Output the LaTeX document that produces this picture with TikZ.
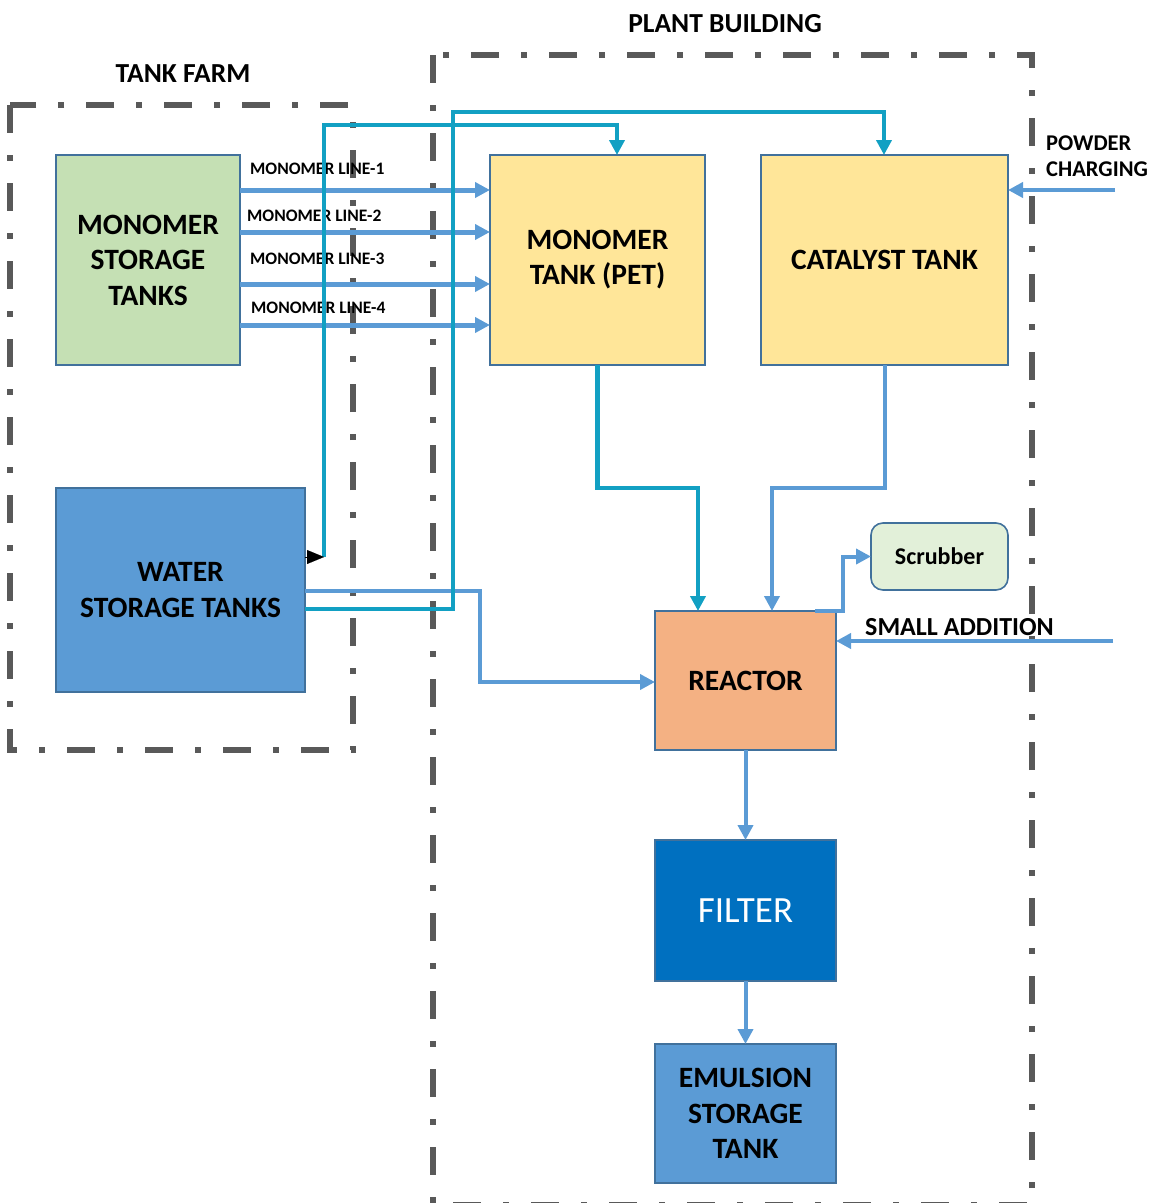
\documentclass[tikz,border=0pt]{standalone}
\usepackage{fontspec}
\setmainfont{Carlito}
\usetikzlibrary{arrows.meta}

\definecolor{edgeblue}{HTML}{41719C}
\definecolor{pipeblue}{HTML}{5B9BD5}
\definecolor{pipeteal}{HTML}{12A0C3}
\definecolor{framegrey}{HTML}{595959}
\definecolor{fillgreen}{HTML}{C5E0B4}
\definecolor{fillyellow}{HTML}{FFE699}
\definecolor{fillorange}{HTML}{F4B183}
\definecolor{fillblue}{HTML}{5B9BD5}
\definecolor{filldeep}{HTML}{0070C0}
\definecolor{fillmint}{HTML}{E2F0D9}

\tikzset{
  unitbox/.style={draw=edgeblue, line width=1.6pt, inner sep=0pt, outer sep=0pt,
    align=center, text=black, font=\bfseries\fontsize{29.5}{35.5}\selectfont},
  areaframe/.style={draw=framegrey, line width=6pt,
    dash pattern=on 28pt off 22pt on 6pt off 22pt},
  arealabel/.style={font=\bfseries\fontsize{27.5}{30}\selectfont, text=black},
  linelabel/.style={anchor=west, inner sep=0pt, font=\bfseries\fontsize{17.5}{20}\selectfont, text=black},
  sidelabel/.style={anchor=west, inner sep=0pt, align=left, text=black},
  tip/.style={-{Triangle[length=15pt,width=15pt]}},
  bluepipe/.style={draw=pipeblue, line width=4pt, tip},
  monoline/.style={draw=pipeblue, line width=5pt, tip},
  tealpipe/.style={draw=pipeteal, line width=4.5pt, tip},
}

\begin{document}
\begin{tikzpicture}[x=1pt, y=-1pt]
\useasboundingbox (0,0) rectangle (1152,1203);

% area frames
\draw[areaframe] (10,105) rectangle (353,750);
\draw[areaframe] (433,55) rectangle (1032,1205);
\node[arealabel] (tfl) at (183,74) {TANK FARM};
\node[arealabel] (pbl) at (725,24) {PLANT BUILDING};

% process units
\node[unitbox, fill=fillgreen, minimum width=184pt, minimum height=210pt] (mst) at (148,260)
  {MONOMER\\STORAGE\\TANKS};
\node[unitbox, fill=fillblue, minimum width=249pt, minimum height=204pt] (wst) at (180.5,590)
  {WATER\\STORAGE TANKS};
\node[unitbox, fill=fillyellow, minimum width=215pt, minimum height=210pt] (mtk) at (597.5,260)
  {\raisebox{-3pt}{\begin{tabular}{@{}c@{}}MONOMER\\TANK (PET)\end{tabular}}};
\node[unitbox, fill=fillyellow, minimum width=247pt, minimum height=210pt] (ctk) at (884.5,260)
  {CATALYST TANK};
\node[unitbox, fill=fillmint, rounded corners=12pt, minimum width=137pt, minimum height=67pt,
  font=\bfseries\fontsize{24}{28}\selectfont] (scr) at (939.5,556.5) {Scrubber};
\node[unitbox, fill=fillorange, minimum width=181pt, minimum height=139pt] (rea) at (745.5,680.5)
  {REACTOR};
\node[unitbox, fill=filldeep, minimum width=181pt, minimum height=141pt, text=white,
  font=\fontsize{37}{42}\selectfont] (fil) at (745.5,910.5) {FILTER};
\node[unitbox, fill=fillblue, minimum width=181pt, minimum height=139pt] (emu) at (745.5,1113.5)
  {EMULSION\\STORAGE\\TANK};

% line labels
\node[linelabel] (ml1) at (250,169) {MONOMER LINE-1};
\node[linelabel] (ml2) at (247,216) {MONOMER LINE-2};
\node[linelabel] (ml3) at (250,259) {MONOMER LINE-3};
\node[linelabel] (ml4) at (251,308) {MONOMER LINE-4};
\node[sidelabel, font=\bfseries\fontsize{22.5}{26}\selectfont] (pcl) at (1046,156) {POWDER\\CHARGING};
\node[sidelabel, font=\bfseries\fontsize{26}{28}\selectfont] (sal) at (865,627) {SMALL ADDITION};

% reference points for the pipe routes
\coordinate (y1) at (0,190);
\coordinate (y2) at (0,232);
\coordinate (y3) at (0,284);
\coordinate (y4) at (0,325);
\coordinate (yw1) at (0,591);
\coordinate (yw2) at (0,609);
\coordinate (yr) at (0,682);
\coordinate (xm) at (617,0);
\coordinate (xc) at (884,0);
\coordinate (xa) at (698,0);
\coordinate (xb) at (772,0);
\coordinate (xs) at (815,0);
\coordinate (wtap) at (324,557);
\coordinate (pcin) at (1115,190);
\coordinate (sain) at (1113,641);

% monomer transfer lines
\draw[monoline] (mst.east |- y1) -- (mtk.west |- y1);
\draw[monoline] (mst.east |- y2) -- (mtk.west |- y2);
\draw[monoline] (mst.east |- y3) -- (mtk.west |- y3);
\draw[monoline] (mst.east |- y4) -- (mtk.west |- y4);

% blue pipes
\draw[bluepipe] (wst.east |- yw1) -| (480,682) -- (rea.west |- yr);
\draw[bluepipe] (ctk.south) |- (772,488) -- (rea.north -| xb);
\draw[bluepipe] (rea.north -| xs) -| (843,556.5) -- (scr.west);
\draw[bluepipe] (sain) -- (rea.east |- sain);
\draw[bluepipe] (pcin) -- (ctk.east |- pcin);
\draw[bluepipe] (rea.south) -- (fil.north);
\draw[bluepipe] (fil.south) -- (emu.north);

% teal pipes
\draw[tealpipe] (mtk.south) |- (698,488) -- (rea.north -| xa);
\draw[tealpipe] (wst.east |- yw2) -| (453,112) -| (ctk.north -| xc);
\draw[tealpipe] (wtap) |- (617,125) -- (mtk.north -| xm);

% water outlet marker
\draw[black, line width=0.1pt, -{Triangle[length=17pt,width=14pt]}] (wst.east |- wtap) -- (wtap);
\end{tikzpicture}
\end{document}
